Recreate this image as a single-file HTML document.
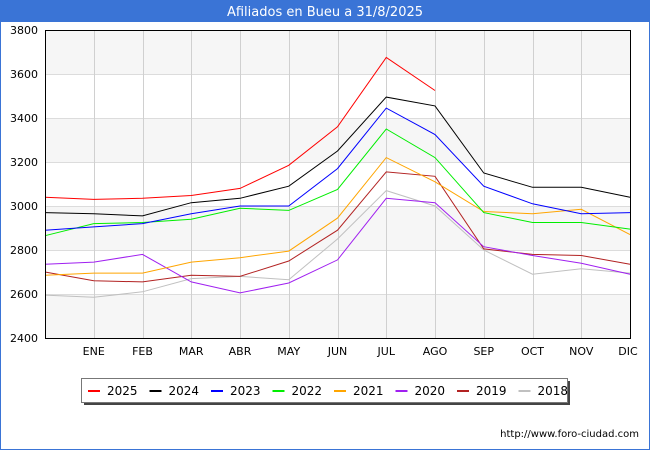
<!DOCTYPE html>
<html><head><meta charset="utf-8"><style>
body{margin:0;background:#fff;}
svg{display:block;font-family:"DejaVu Sans","Liberation Sans",sans-serif;}
</style></head><body>
<svg id="s" width="650" height="450" xmlns="http://www.w3.org/2000/svg">
<rect x="0" y="0" width="650" height="450" fill="#fff"/>
<rect x="0.5" y="0.5" width="649" height="449" fill="none" stroke="#3a74d6"/>
<rect x="0" y="0" width="650" height="22" fill="#3a74d6"/>
<text x="325" y="16" text-anchor="middle" font-size="13" fill="#fff">Afiliados en Bueu a 31/8/2025</text>
<g id="bands"></g>
<g id="grid"></g>
<g id="lines"></g>
<rect x="45.5" y="30.5" width="585" height="308" fill="none" stroke="#000"/>
<g id="labels" font-size="11" fill="#000"></g>
<rect x="84" y="381" width="486" height="24" fill="#444"/>
<rect x="81.5" y="378.5" width="486" height="24" fill="#fff" stroke="#777"/>
<g id="legend" font-size="12"></g>
<text x="639" y="437" text-anchor="end" font-size="10" fill="#000">http://www.foro-ciudad.com</text>
</svg>
<script>
const NS="http://www.w3.org/2000/svg";
function el(p,t,a,txt){const e=document.createElementNS(NS,t);for(const k in a)e.setAttribute(k,a[k]);if(txt)e.textContent=txt;document.getElementById(p).appendChild(e);}
const X=i=>45+i*48.75, Y=v=>30+(3800-v)*0.22;
for(let k=0;k<7;k++){const v=3800-k*200;if(k%2==0)el("bands","rect",{x:45,y:Y(v),width:585,height:44,fill:"#f6f6f6"});}
for(let k=1;k<7;k++)el("grid","line",{x1:45,x2:630,y1:Y(3800-k*200)+.5,y2:Y(3800-k*200)+.5,stroke:"#dcdcdc"});
for(let i=1;i<12;i++)el("grid","line",{x1:Math.round(X(i))+.5,x2:Math.round(X(i))+.5,y1:30,y2:338,stroke:"#d0d0d0"});
for(let k=0;k<8;k++){const v=3800-k*200;el("labels","text",{x:38,y:Y(v)+4,"text-anchor":"end"},String(v));}
const m=["ENE","FEB","MAR","ABR","MAY","JUN","JUL","AGO","SEP","OCT","NOV","DIC"];
m.forEach((t,i)=>el("labels","text",{x:X(i+1)-(i==11?2:0),y:355,"text-anchor":"middle"},t));
const D=[
["2025","#ff0000",[3040,3030,3035,3048,3080,3185,3360,3675,3525]],
["2024","#000000",[2970,2965,2955,3015,3035,3090,3250,3495,3455,3150,3085,3085,3040]],
["2023","#0000ff",[2890,2905,2920,2965,3000,3000,3170,3445,3325,3090,3010,2965,2970]],
["2022","#00ee00",[2865,2920,2925,2940,2990,2980,3075,3350,3220,2970,2925,2925,2895]],
["2021","#ffa500",[2685,2695,2695,2745,2765,2795,2945,3220,3110,2975,2965,2985,2870]],
["2020","#a020f0",[2735,2745,2780,2655,2605,2650,2755,3035,3015,2815,2775,2740,2690]],
["2019","#b22222",[2700,2660,2655,2685,2680,2750,2890,3155,3135,2805,2780,2775,2735]],
["2018","#c0c0c0",[2595,2585,2610,2670,2680,2665,2850,3070,3000,2800,2690,2715,2695]]];
D.slice().reverse().forEach(d=>el("lines","polyline",{points:d[2].map((v,i)=>X(i)+","+Y(v)).join(" "),fill:"none",stroke:d[1],"stroke-width":1}));
D.forEach((d,i)=>{const x=88+i*61.5;el("legend","line",{x1:x,x2:x+12,y1:391,y2:391,stroke:d[1],"stroke-width":2});el("legend","text",{x:x+19,y:395},d[0]);});
</script>
</body></html>
